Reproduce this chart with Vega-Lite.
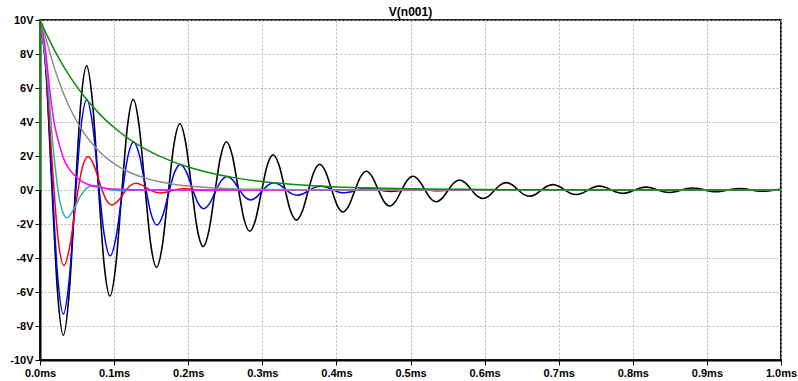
{
  "$schema": "https://vega.github.io/schema/vega-lite/v6.json",
  "width": 741,
  "height": 340,
  "autosize": {"type": "none"},
  "padding": {"left": 40, "top": 20, "right": 17, "bottom": 21},
  "background": "white",
  "title": {"text": "V(n001)", "fontSize": 12, "fontWeight": "bold", "font": "Liberation Sans", "color": "#000000", "offset": 4, "baseline": "alphabetic", "anchor": "middle", "dy": 18},
  "config": {
    "view": {"stroke": "#222222", "strokeWidth": 2},
    "axis": {"labelFont": "Liberation Sans", "labelFontSize": 11, "labelFontWeight": "bold", "labelColor": "#000000", "domainColor": "#000000", "domainWidth": 2, "tickColor": "#000000", "tickSize": 5, "tickWidth": 1, "labelPadding": 2, "grid": true, "gridColor": "#b4b4b4", "gridDash": [2, 2], "gridWidth": 1, "title": null}
  },
  "datasets": {
    "black": [
      {"t":0,"v":10},{"t":0.00786,"v":7.139},{"t":0.01573,"v":0.462},{"t":0.02359,"v":-5.971},{"t":0.03146,"v":-8.545},{"t":0.03932,"v":-6.1},{"t":0.04718,"v":-0.395},{"t":0.05505,"v":5.102},
      {"t":0.06291,"v":7.301},{"t":0.07078,"v":5.212},{"t":0.07864,"v":0.337},{"t":0.0865,"v":-4.359},{"t":0.09437,"v":-6.239},{"t":0.10223,"v":-4.454},{"t":0.11009,"v":-0.288},{"t":0.11796,"v":3.725},
      {"t":0.12582,"v":5.331},{"t":0.13369,"v":3.806},{"t":0.14155,"v":0.246},{"t":0.14941,"v":-3.183},{"t":0.15728,"v":-4.555},{"t":0.16514,"v":-3.252},{"t":0.173,"v":-0.211},{"t":0.18087,"v":2.72},
      {"t":0.18874,"v":3.893},{"t":0.1966,"v":2.779},{"t":0.20447,"v":0.18},{"t":0.21233,"v":-2.324},{"t":0.2202,"v":-3.326},{"t":0.22806,"v":-2.374},{"t":0.23592,"v":-0.154},{"t":0.24379,"v":1.986},
      {"t":0.25165,"v":2.842},{"t":0.25951,"v":2.029},{"t":0.26738,"v":0.131},{"t":0.27524,"v":-1.697},{"t":0.28311,"v":-2.428},{"t":0.29097,"v":-1.734},{"t":0.29883,"v":-0.112},{"t":0.3067,"v":1.45},
      {"t":0.31456,"v":2.075},{"t":0.32242,"v":1.481},{"t":0.33029,"v":0.096},{"t":0.33815,"v":-1.239},{"t":0.34602,"v":-1.773},{"t":0.35388,"v":-1.266},{"t":0.36174,"v":-0.082},{"t":0.36961,"v":1.059},
      {"t":0.37747,"v":1.515},{"t":0.38533,"v":1.082},{"t":0.3932,"v":0.07},{"t":0.40106,"v":-0.905},{"t":0.40893,"v":-1.295},{"t":0.41679,"v":-0.924},{"t":0.42465,"v":-0.06},{"t":0.43252,"v":0.773},
      {"t":0.44038,"v":1.106},{"t":0.44824,"v":0.79},{"t":0.45611,"v":0.051},{"t":0.46397,"v":-0.661},{"t":0.47184,"v":-0.945},{"t":0.4797,"v":-0.675},{"t":0.48756,"v":-0.044},{"t":0.49543,"v":0.564},
      {"t":0.5033,"v":0.808},{"t":0.51116,"v":0.577},{"t":0.51903,"v":0.037},{"t":0.52689,"v":-0.482},{"t":0.53476,"v":-0.69},{"t":0.54262,"v":-0.493},{"t":0.55048,"v":-0.032},{"t":0.55835,"v":0.412},
      {"t":0.56621,"v":0.59},{"t":0.57407,"v":0.421},{"t":0.58194,"v":0.027},{"t":0.5898,"v":-0.352},{"t":0.59767,"v":-0.504},{"t":0.60553,"v":-0.36},{"t":0.61339,"v":-0.023},{"t":0.62126,"v":0.301},
      {"t":0.62912,"v":0.431},{"t":0.63698,"v":0.307},{"t":0.64485,"v":0.02},{"t":0.65271,"v":-0.257},{"t":0.66058,"v":-0.368},{"t":0.66844,"v":-0.263},{"t":0.6763,"v":-0.017},{"t":0.68417,"v":0.22},
      {"t":0.69203,"v":0.314},{"t":0.69989,"v":0.224},{"t":0.70776,"v":0.015},{"t":0.71562,"v":-0.188},{"t":0.72349,"v":-0.269},{"t":0.73135,"v":-0.192},{"t":0.73921,"v":-0.012},{"t":0.74708,"v":0.16},
      {"t":0.75494,"v":0.23},{"t":0.7628,"v":0.164},{"t":0.77067,"v":0.011},{"t":0.77853,"v":-0.137},{"t":0.7864,"v":-0.196},{"t":0.79426,"v":-0.14},{"t":0.80212,"v":-0.009},{"t":0.80999,"v":0.117},
      {"t":0.81786,"v":0.168},{"t":0.82572,"v":0.12},{"t":0.83359,"v":0.008},{"t":0.84145,"v":-0.1},{"t":0.84932,"v":-0.143},{"t":0.85718,"v":-0.102},{"t":0.86504,"v":-0.007},{"t":0.87291,"v":0.086},
      {"t":0.88077,"v":0.122},{"t":0.88863,"v":0.087},{"t":0.8965,"v":0.006},{"t":0.90436,"v":-0.073},{"t":0.91223,"v":-0.105},{"t":0.92009,"v":-0.075},{"t":0.92795,"v":-0.005},{"t":0.93582,"v":0.062},
      {"t":0.94368,"v":0.089},{"t":0.95154,"v":0.064},{"t":0.95941,"v":0.004},{"t":0.96727,"v":-0.053},{"t":0.97514,"v":-0.076},{"t":0.983,"v":-0.055},{"t":0.99086,"v":-0.004},{"t":0.99873,"v":0.046},
      {"t":1.0,"v":0.05}
    ],
    "blue": [
      {"t":0,"v":10},{"t":0.00789,"v":7.191},{"t":0.01579,"v":0.858},{"t":0.02368,"v":-5.019},{"t":0.03157,"v":-7.292},{"t":0.03947,"v":-5.244},{"t":0.04736,"v":-0.626},{"t":0.05525,"v":3.66},
      {"t":0.06315,"v":5.318},{"t":0.07104,"v":3.825},{"t":0.07894,"v":0.456},{"t":0.08683,"v":-2.669},{"t":0.09472,"v":-3.878},{"t":0.10262,"v":-2.789},{"t":0.11051,"v":-0.333},{"t":0.1184,"v":1.947},
      {"t":0.12629,"v":2.829},{"t":0.13418,"v":2.034},{"t":0.14208,"v":0.243},{"t":0.14997,"v":-1.42},{"t":0.15786,"v":-2.063},{"t":0.16576,"v":-1.483},{"t":0.17365,"v":-0.177},{"t":0.18154,"v":1.035},
      {"t":0.18944,"v":1.504},{"t":0.19733,"v":1.082},{"t":0.20523,"v":0.129},{"t":0.21312,"v":-0.755},{"t":0.22101,"v":-1.097},{"t":0.22891,"v":-0.789},{"t":0.2368,"v":-0.094},{"t":0.24469,"v":0.551},
      {"t":0.25259,"v":0.8},{"t":0.26048,"v":0.575},{"t":0.26838,"v":0.069},{"t":0.27627,"v":-0.402},{"t":0.28416,"v":-0.583},{"t":0.29206,"v":-0.42},{"t":0.29995,"v":-0.05},{"t":0.30784,"v":0.293},
      {"t":0.31574,"v":0.426},{"t":0.32363,"v":0.306},{"t":0.33153,"v":0.037},{"t":0.33942,"v":-0.214},{"t":0.34731,"v":-0.31},{"t":0.35521,"v":-0.223},{"t":0.3631,"v":-0.027},{"t":0.37099,"v":0.156},
      {"t":0.37888,"v":0.226},{"t":0.38677,"v":0.163},{"t":0.39467,"v":0.019},{"t":0.40256,"v":-0.114},{"t":0.41045,"v":-0.165},{"t":0.41835,"v":-0.119},{"t":0.42624,"v":-0.014},{"t":0.43413,"v":0.083},
      {"t":0.44203,"v":0.12},{"t":0.44992,"v":0.087},{"t":0.45782,"v":0.01},{"t":0.46571,"v":-0.06},{"t":0.4736,"v":-0.088},{"t":0.4815,"v":-0.063},{"t":0.48939,"v":-0.008},{"t":0.49728,"v":0.044},
      {"t":0.50518,"v":0.064},{"t":0.51307,"v":0.046},{"t":0.52097,"v":0.005},{"t":0.52886,"v":-0.032},{"t":0.53675,"v":-0.047},{"t":0.54465,"v":-0.034},{"t":0.55254,"v":-0.004},{"t":0.56043,"v":0.023},
      {"t":0.62,"v":0},{"t":1.0,"v":0}
    ],
    "red": [
      {"t":0,"v":10},{"t":0.00811,"v":7.264},{"t":0.01622,"v":1.721},{"t":0.02433,"v":-2.855},{"t":0.03245,"v":-4.444},{"t":0.04056,"v":-3.228},{"t":0.04867,"v":-0.765},{"t":0.05678,"v":1.269},
      {"t":0.06489,"v":1.975},{"t":0.073,"v":1.434},{"t":0.08111,"v":0.34},{"t":0.08922,"v":-0.564},{"t":0.09734,"v":-0.877},{"t":0.10545,"v":-0.637},{"t":0.11356,"v":-0.151},{"t":0.12167,"v":0.25},
      {"t":0.12978,"v":0.39},{"t":0.13789,"v":0.283},{"t":0.146,"v":0.067},{"t":0.15411,"v":-0.111},{"t":0.16223,"v":-0.173},{"t":0.17034,"v":-0.126},{"t":0.17845,"v":-0.03},{"t":0.18656,"v":0.049},
      {"t":0.19468,"v":0.077},{"t":0.20279,"v":0.056},{"t":0.2109,"v":0.013},{"t":0.21901,"v":-0.022},{"t":0.22713,"v":-0.034},{"t":0.23524,"v":-0.025},{"t":0.24335,"v":-0.006},{"t":0.25146,"v":0.01},
      {"t":0.3,"v":0},{"t":1.0,"v":0}
    ],
    "cyan": [
      {"t":0,"v":10},{"t":0.00907,"v":7.087},{"t":0.01814,"v":2.331},{"t":0.02721,"v":-0.767},{"t":0.03628,"v":-1.63},{"t":0.04534,"v":-1.156},{"t":0.05441,"v":-0.38},{"t":0.06348,"v":0.125},
      {"t":0.07255,"v":0.266},{"t":0.08162,"v":0.188},{"t":0.09069,"v":0.062},{"t":0.09976,"v":-0.02},{"t":0.10883,"v":-0.043},{"t":0.11789,"v":-0.031},{"t":0.12696,"v":-0.01},{"t":0.13603,"v":0.003},
      {"t":0.2,"v":0},{"t":1.0,"v":0}
    ],
    "magenta": [
      {"t":0,"v":10},{"t":0.003,"v":9.5},{"t":0.0072,"v":8.3},{"t":0.0117,"v":6.5},{"t":0.0153,"v":5.1},{"t":0.0198,"v":3.8},{"t":0.0243,"v":2.95},{"t":0.0333,"v":1.7},
      {"t":0.04,"v":1.2},{"t":0.0468,"v":0.85},{"t":0.055,"v":0.55},{"t":0.065,"v":0.32},{"t":0.075,"v":0.19},{"t":0.087,"v":0.11},{"t":0.1,"v":0.06},{"t":0.12,"v":0.02},
      {"t":0.15,"v":0},{"t":1.0,"v":0}
    ],
    "gray": [
      {"t":0,"v":10},{"t":0.002,"v":9.857},{"t":0.005,"v":9.408},{"t":0.01,"v":8.578},{"t":0.02,"v":7.095},{"t":0.03,"v":5.867},{"t":0.04,"v":4.852},{"t":0.05,"v":4.012},
      {"t":0.06,"v":3.318},{"t":0.07,"v":2.744},{"t":0.08,"v":2.269},{"t":0.09,"v":1.877},{"t":0.1,"v":1.552},{"t":0.12,"v":1.061},{"t":0.14,"v":0.726},{"t":0.16,"v":0.496},
      {"t":0.18,"v":0.339},{"t":0.2,"v":0.232},{"t":0.23,"v":0.131},{"t":0.26,"v":0.074},{"t":0.3,"v":0.035},{"t":0.35,"v":0.013},{"t":0.4,"v":0.005},{"t":0.5,"v":0.001},
      {"t":1.0,"v":0}
    ],
    "green": [
      {"t":0,"v":10},{"t":0.01,"v":9.048},{"t":0.02,"v":8.187},{"t":0.03,"v":7.408},{"t":0.04,"v":6.703},{"t":0.05,"v":6.065},{"t":0.06,"v":5.488},{"t":0.07,"v":4.966},
      {"t":0.08,"v":4.493},{"t":0.09,"v":4.066},{"t":0.1,"v":3.679},{"t":0.12,"v":3.012},{"t":0.14,"v":2.466},{"t":0.16,"v":2.019},{"t":0.18,"v":1.653},{"t":0.2,"v":1.353},
      {"t":0.23,"v":1.003},{"t":0.26,"v":0.743},{"t":0.29,"v":0.55},{"t":0.32,"v":0.408},{"t":0.36,"v":0.273},{"t":0.4,"v":0.183},{"t":0.45,"v":0.111},{"t":0.5,"v":0.067},
      {"t":0.55,"v":0.041},{"t":0.6,"v":0.025},{"t":0.7,"v":0.009},{"t":0.8,"v":0.003},{"t":1.0,"v":0}
    ],
    "step": [{"t":0,"v":0,"v2":10}]
  },
  "encoding": {
    "x": {"field": "t", "type": "quantitative", "scale": {"domain": [0, 1], "nice": false, "zero": false},
          "axis": {"values": [0, 0.1, 0.2, 0.3, 0.4, 0.5, 0.6, 0.7, 0.8, 0.9, 1.0], "labelExpr": "format(datum.value, '.1f') + 'ms'", "labelFlush": false, "labelOverlap": false}},
    "y": {"field": "v", "type": "quantitative", "scale": {"domain": [-10, 10], "nice": false, "zero": false},
          "axis": {"values": [-10, -8, -6, -4, -2, 0, 2, 4, 6, 8, 10], "labelExpr": "datum.value + 'V'", "labelOverlap": false}}
  },
  "layer": [
    {"data": {"name": "black"}, "mark": {"type": "line", "color": "#000000", "strokeWidth": 1.6, "interpolate": "monotone", "clip": true}},
    {"data": {"name": "blue"}, "mark": {"type": "line", "color": "#0000ff", "strokeWidth": 1.5, "interpolate": "monotone", "clip": true}},
    {"data": {"name": "red"}, "mark": {"type": "line", "color": "#ff0000", "strokeWidth": 1.5, "interpolate": "monotone", "clip": true}},
    {"data": {"name": "cyan"}, "mark": {"type": "line", "color": "#2ab3b3", "strokeWidth": 1.5, "interpolate": "monotone", "clip": true}},
    {"data": {"name": "magenta"}, "mark": {"type": "line", "color": "#ff00ff", "strokeWidth": 1.5, "interpolate": "monotone", "clip": true}},
    {"data": {"name": "gray"}, "mark": {"type": "line", "color": "#8c8c8c", "strokeWidth": 1.5, "interpolate": "monotone", "clip": true}},
    {"data": {"name": "green"}, "mark": {"type": "line", "color": "#0f8a0f", "strokeWidth": 1.5, "interpolate": "monotone", "clip": true}},
    {"data": {"name": "step"}, "mark": {"type": "rule", "color": "#0f8a0f", "strokeWidth": 2}, "encoding": {"y2": {"field": "v2"}}}
  ]
}
